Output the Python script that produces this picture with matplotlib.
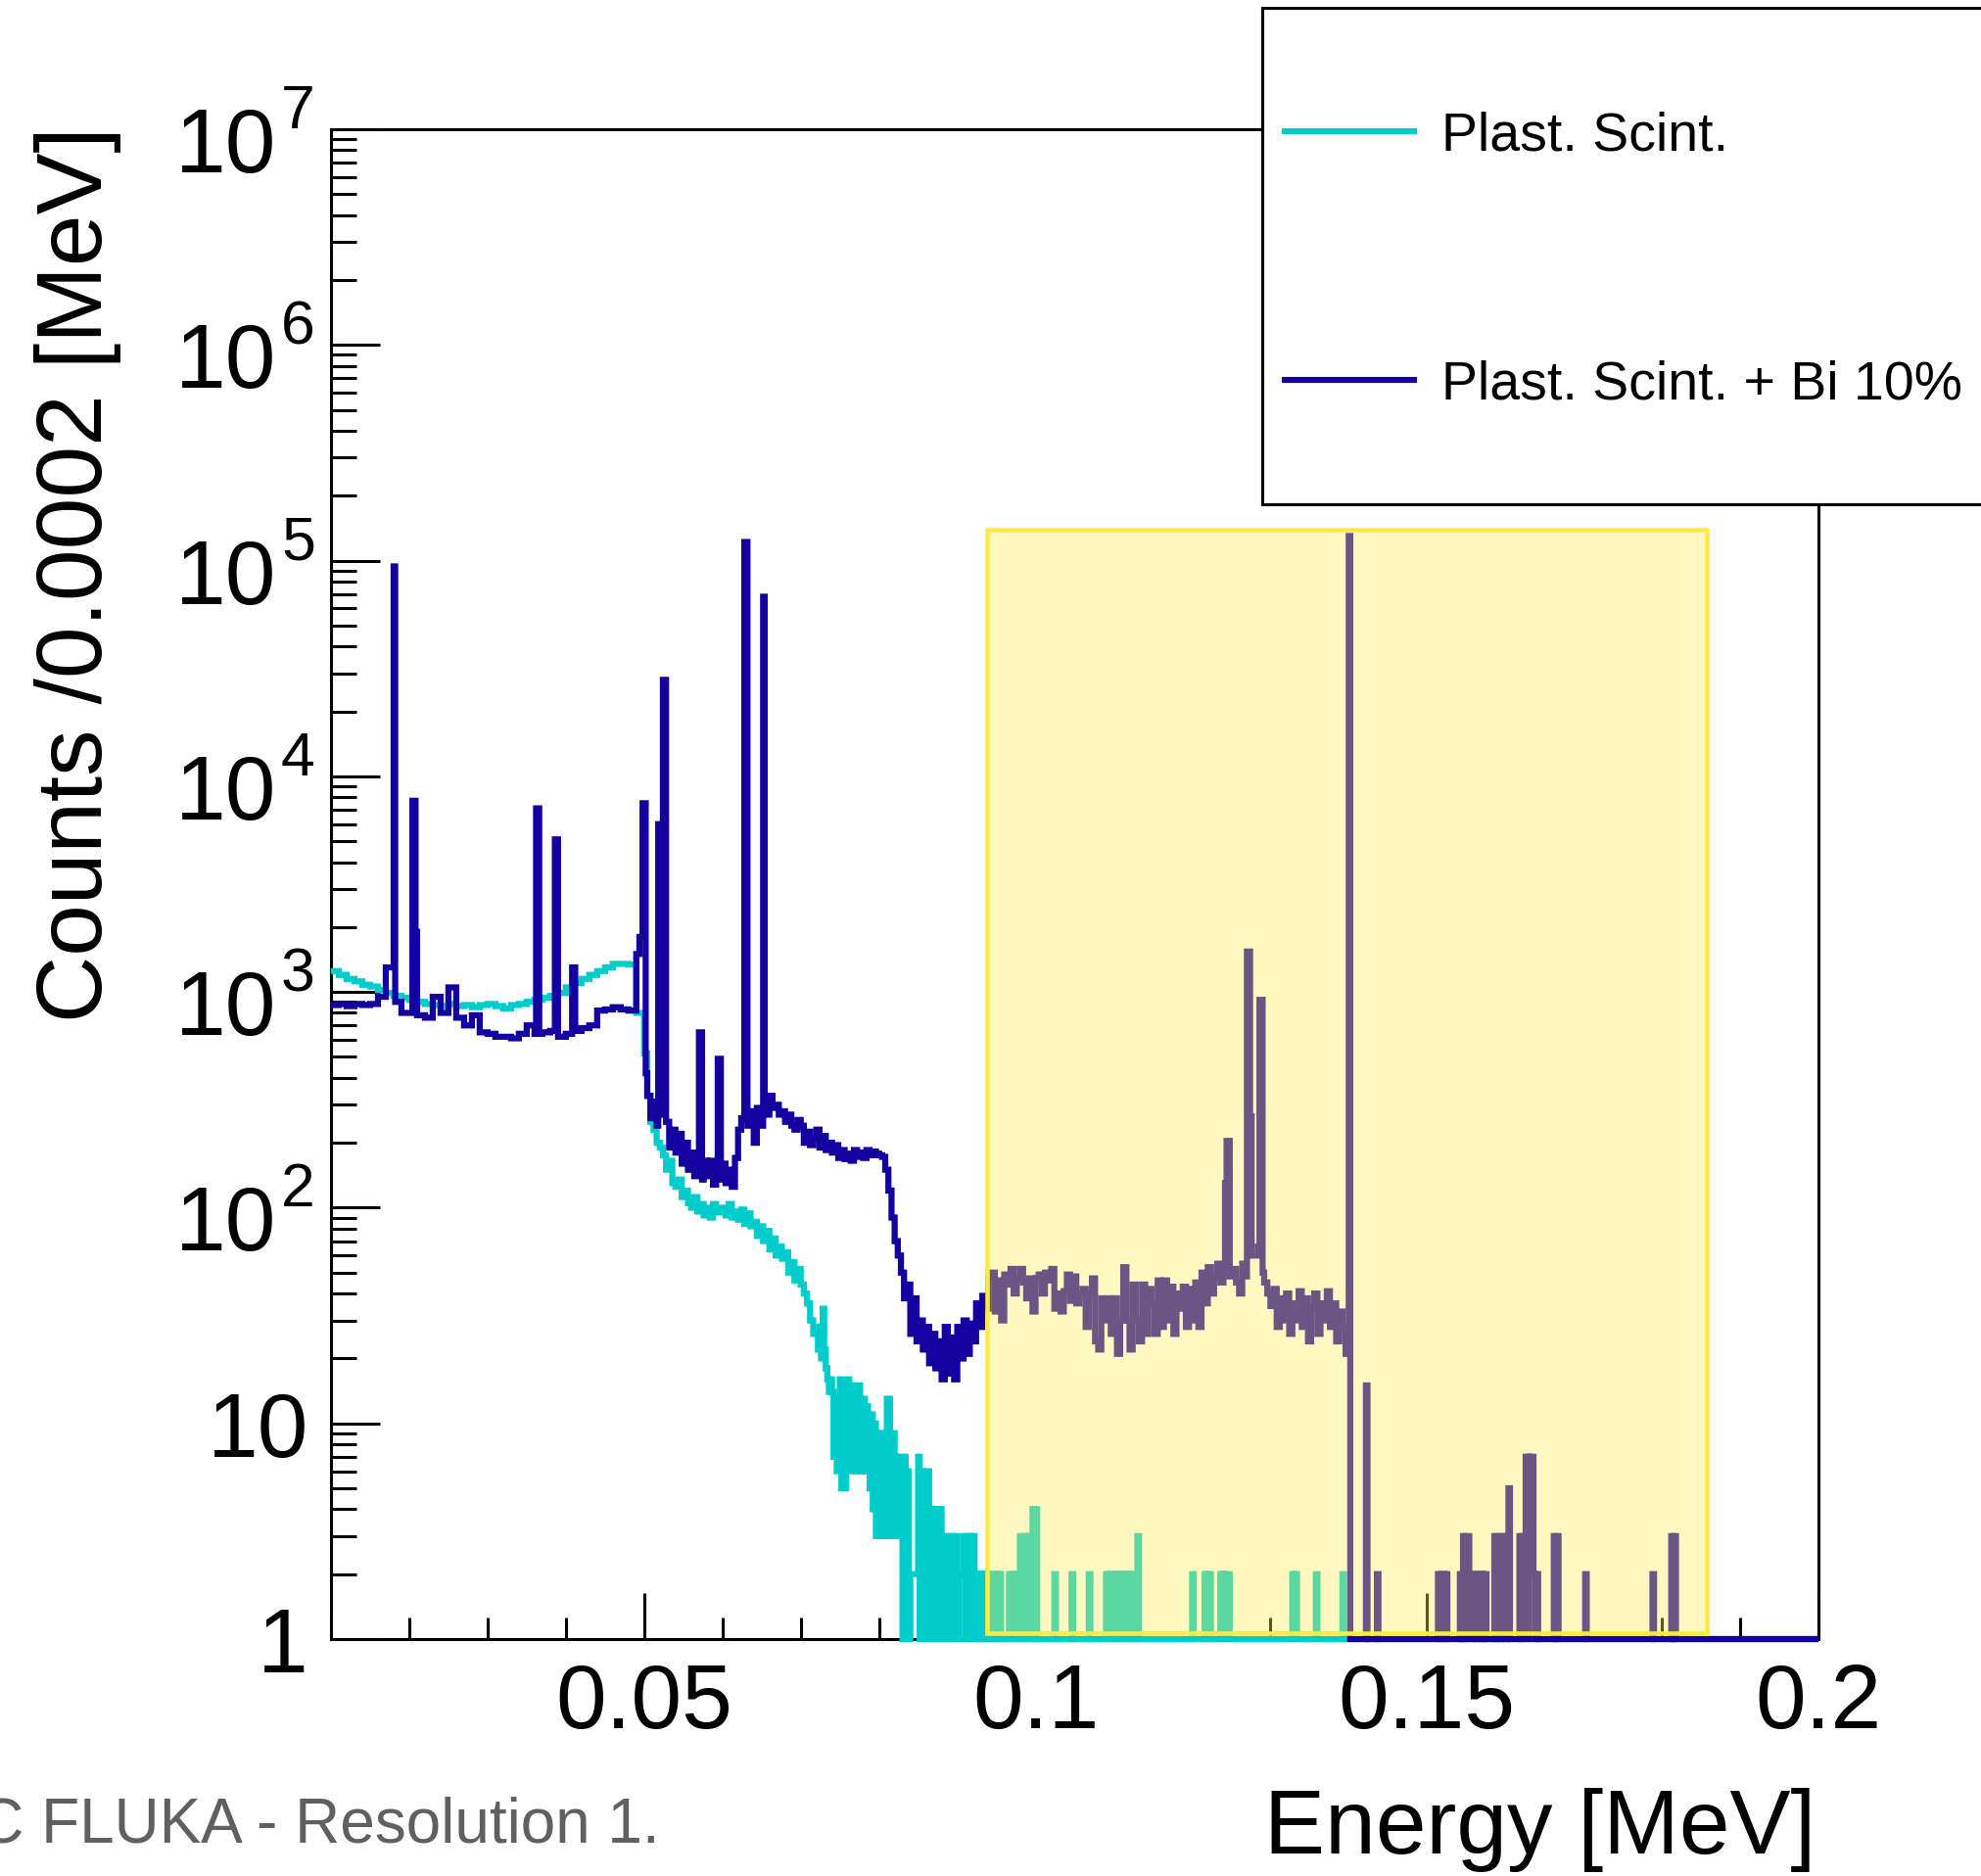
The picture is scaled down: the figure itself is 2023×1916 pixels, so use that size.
import numpy as np
import matplotlib
matplotlib.use("Agg")
import matplotlib.pyplot as plt
from matplotlib.patches import Rectangle
from matplotlib.lines import Line2D
from matplotlib.ticker import FixedLocator, LogLocator, NullFormatter, MultipleLocator

plt.rcParams["font.family"] = ["Liberation Sans", "DejaVu Sans"]

# histogram binning: 0.0002 MeV bins between 0.01 and 0.2 MeV
E_MIN, E_MAX, BIN_W = 0.01, 0.2, 0.0002
N_FINE = 950

# smooth low-energy part, one value per 0.001 MeV from 0.010 to 0.050
cyan_cont = [
    1250, 1200, 1150, 1120, 1080, 1060, 1020, 990, 960, 940,
    920, 900, 880, 870, 860, 880, 860, 870, 850, 870,
    880, 860, 840, 870, 880, 900, 920, 940, 960, 990,
    1050, 1100, 1150, 1200, 1250, 1300, 1350, 1350, 1340, 800,
]
bi_cont = [
    870, 880, 860, 880, 870, 880, 950, 1300, 900, 800,
    800, 780, 760, 950, 800, 1050, 760, 700, 780, 650,
    640, 620, 620, 610, 640, 700, 640, 650, 660, 620,
    640, 660, 680, 700, 820, 830, 850, 830, 820, 1500,
]

# Plast. Scint. above 0.05 MeV: (start energy, fine bins per value, values)
cyan_runs = [
    (0.0500, 2, [520, 330, 250, 230, 200, 190, 175, 150, 165, 130,
                 125, 135, 112, 120, 105, 100, 112, 96, 104, 92,
                 100, 90, 104, 95, 99, 100, 92, 104, 90, 96,
                 88, 98, 84, 94, 82, 86, 74, 82, 70, 78,
                 64, 72, 60, 66, 58, 62, 50, 56, 46, 52,
                 44, 40, 36, 30, 26]),
    (0.0720, 1, [26, 22, 28, 20, 34, 22, 18, 16, 14, 16,
                 14, 7, 13, 6, 13, 16, 5, 15, 5, 15,
                 16, 6, 15, 7, 14, 6, 14, 15, 6, 12,
                 13, 6, 12, 10, 5, 11, 4, 10, 3, 9,
                 3, 9, 8, 3, 9, 13, 13, 3, 4, 9,
                 7, 3, 7, 6, 3, 0, 7, 1, 6, 0,
                 2, 2, 2, 2, 2, 7, 0, 6, 1, 5,
                 0, 6, 1, 4, 0, 4, 1, 4, 0, 4,
                 1, 2, 0, 3, 1, 3, 0, 3, 1, 3,
                 0, 2, 2, 2, 3, 0, 3, 1, 3, 0,
                 3, 1, 2, 0, 2, 1, 2, 0, 2, 1]),
    (0.0940, 1, [2, 1, 2, 2, 1, 2, 1, 2]),
    (0.0966, 1, [2, 1, 2, 2, 1, 2, 2, 3, 1, 3, 2, 3, 1, 3, 3, 4, 1, 4]),
    (0.1024, 1, [2]),
    (0.1046, 1, [2]),
    (0.1068, 1, [2]),
    (0.1090, 1, [2, 1, 2, 2, 1, 2, 1, 2, 2, 1, 2, 2, 1, 2, 2, 1, 2, 2, 1, 2, 3]),
    (0.1200, 1, [2]),
    (0.1216, 1, [2, 1, 2, 2]),
    (0.1236, 1, [2, 1, 2, 1, 2, 2, 1]),
    (0.1328, 1, [2, 1, 2]),
    (0.1358, 1, [2]),
    (0.1392, 1, [2]),
]

# Plast. Scint. + Bi 10% above 0.05 MeV
bi_runs = [
    (0.0500, 2, [420, 330, 260, 310, 240, 270, 200, 250, 190, 230,
                 180, 220, 160, 200, 150, 180, 140, 170, 135, 165,
                 140, 165, 128, 150, 135, 160, 130, 150, 125, 170,
                 230, 260, 300, 240, 280, 200, 290, 240, 300, 270,
                 330, 290, 300, 270, 280, 250, 270, 240, 230, 255,
                 240, 200, 225, 195, 210, 230, 190, 215, 185, 200,
                 180, 195, 170, 185, 168, 178, 165, 185, 172, 180,
                 170, 185, 175, 182, 178, 175, 172, 150, 120, 90,
                 70, 60, 50, 38, 44, 26, 38, 24, 30, 22,
                 28, 19, 26, 18, 24, 16, 28, 17, 25, 16,
                 28, 20, 30, 21, 29, 24, 36, 28, 39]),
    (0.0936, 2, [34, 48, 50, 33, 46, 30, 49, 44, 52, 40,
                 47, 52, 45, 38, 47, 33, 47, 49, 40, 50,
                 46, 52, 34, 40, 33, 41, 49, 37, 48, 36,
                 40, 42, 28, 40, 47, 24, 22, 38, 30, 38,
                 26, 38, 21, 30, 53, 30, 22, 44, 30, 24,
                 44, 26, 42, 36, 26, 46, 28, 46, 30, 43,
                 26, 40, 34, 43, 28, 42, 30, 45, 28, 50,
                 36, 53, 40, 48, 55, 45, 50, 55, 48, 52,
                 45, 40, 55, 48, 42, 60, 60, 66, 50, 45,
                 40, 35, 42, 28, 38, 30, 40, 26, 36, 30,
                 41, 28, 38, 24, 34, 40, 26, 36, 30, 41,
                 28, 36, 24, 33, 28, 21]),
    # photo peaks and fluorescence lines
    (0.0180, 1, [94000]),
    (0.0204, 1, [7700, 7700, 1900]),
    (0.0362, 1, [7100, 7100]),
    (0.0386, 1, [5100, 5100]),
    (0.0408, 1, [1300, 1300]),
    (0.0494, 1, [1800, 1800, 7500, 7500]),
    (0.0518, 1, [6000]),
    (0.0524, 1, [28000, 28000]),
    (0.0570, 1, [650, 650]),
    (0.0594, 1, [490, 490]),
    (0.0628, 1, [122000, 122000]),
    (0.0652, 1, [68000]),
    (0.1242, 1, [130, 204, 204]),
    (0.1270, 1, [1540, 1540, 265, 60, 60, 60, 60, 66, 920, 920]),
    (0.1400, 1, [130000]),
    (0.1422, 1, [15]),
    (0.1436, 1, [2]),
    (0.1514, 1, [2, 1, 2, 2, 1, 2]),
    (0.1542, 1, [2, 1, 3, 1, 3, 3, 2, 1, 2, 2, 1, 2, 2, 1, 2, 1, 2]),
    (0.1586, 1, [3, 1, 3, 3, 1, 3, 3, 1, 3, 5]),
    (0.1618, 1, [3, 1, 3, 3, 7, 1, 7, 2, 7, 2, 1, 2]),
    (0.1662, 1, [3, 1, 3]),
    (0.1702, 1, [2]),
    (0.1788, 1, [2]),
    (0.1812, 1, [3, 1, 3]),
]

y_ticks = [1, 10, 1e2, 1e3, 1e4, 1e5, 1e6, 1e7]
x_ticks = [0.05, 0.1, 0.15, 0.2]
x_labels = ["0.05", "0.1", "0.15", "0.2"]

CYAN = "#00cccc"
BLUE = "#1400a0"

edges = np.round(E_MIN + BIN_W * np.arange(N_FINE + 1), 6)


def build_hist(cont, runs):
    counts = np.zeros(N_FINE)
    counts[: 5 * len(cont)] = np.repeat(cont, 5)
    for start, width, vals in runs:
        i0 = int(round((start - E_MIN) / BIN_W))
        counts[i0:i0 + width * len(vals)] = np.repeat(vals, width)
    return counts


h_plast = build_hist(cyan_cont, cyan_runs)
h_bi = build_hist(bi_cont, bi_runs)

W, H = 2024, 1916
fig = plt.figure(figsize=(W / 100, H / 100), dpi=100, facecolor="white")
ax = fig.add_axes([338 / W, 1 - 1674 / H, 1519 / W, 1542 / H])

# empty bins sit on the frame bottom, as on a log-scale ROOT plot
ax.stairs(np.maximum(h_plast, 1), edges, baseline=None, color=CYAN,
          lw=4.5, zorder=3, clip_on=False)
ax.stairs(np.maximum(h_bi, 1), edges, baseline=None, color=BLUE,
          lw=4.5, zorder=3.1, clip_on=False)

ax.set_xlim(E_MIN, E_MAX)
ax.set_yscale("log")
ax.set_ylim(1, 1e7)

ax.yaxis.set_major_locator(FixedLocator(y_ticks))
ax.yaxis.set_minor_locator(LogLocator(base=10, subs=np.arange(2, 10)))
ax.yaxis.set_minor_formatter(NullFormatter())
ax.xaxis.set_major_locator(FixedLocator(x_ticks))
ax.xaxis.set_minor_locator(MultipleLocator(0.01))

ax.tick_params(which="both", direction="in", width=2.2, top=False, right=False,
               labelleft=False, labelbottom=False)
ax.tick_params(axis="x", which="major", length=34)
ax.tick_params(axis="x", which="minor", length=16)
ax.tick_params(axis="y", which="major", length=36)
ax.tick_params(axis="y", which="minor", length=19)
for sp in ax.spines.values():
    sp.set_linewidth(2.2)

# tick labels, ROOT style: 1, 10, then powers of ten with a raised exponent
ytr = ax.get_yaxis_transform()
for v in y_ticks:
    n = int(round(np.log10(v)))
    if n < 2:
        ax.annotate(str(int(v)), (0, v), xycoords=ytr, xytext=(-23, -34),
                    textcoords="offset pixels", ha="right", va="baseline",
                    fontsize=67, annotation_clip=False)
    else:
        ax.annotate("10", (0, v), xycoords=ytr, xytext=(-56, -44),
                    textcoords="offset pixels", ha="right", va="baseline",
                    fontsize=67, annotation_clip=False)
        ax.annotate(str(n), (0, v), xycoords=ytr, xytext=(-51, 1),
                    textcoords="offset pixels", ha="left", va="baseline",
                    fontsize=45, annotation_clip=False)
xtr = ax.get_xaxis_transform()
for v, lab in zip(x_ticks, x_labels):
    ax.annotate(lab, (v, 0), xycoords=xtr, xytext=(0, -91),
                textcoords="offset pixels", ha="center", va="baseline",
                fontsize=67, annotation_clip=False)

# highlighted energy window
ax.add_patch(Rectangle((0.0938, 1.065), 0.1858 - 0.0938, 1.39e5 - 1.065,
                       facecolor=(1.0, 0.925, 0.333, 0.37), edgecolor="#ffe94a",
                       lw=3.3, zorder=5, clip_on=False))

# axis titles
fig.text(80 / W, 1 - 129 / H, "Counts /0.0002 [MeV]", rotation=90,
         ha="center", va="top", fontsize=68)
fig.text(1854 / W, 1 - 1893 / H, "Energy [MeV]", ha="right", va="baseline",
         fontsize=67)
fig.text(674 / W, 1 - 1882 / H, "MC FLUKA - Resolution 1.", ha="right",
         va="baseline", fontsize=46, color="#606060")

# legend box
fig.add_artist(Rectangle((1289.5 / W, 1 - 514.7 / H), (2110 - 1289.5) / W,
                         (514.7 - 8.5) / H, transform=fig.transFigure,
                         facecolor="white", edgecolor="black", lw=2.2,
                         zorder=10, clip_on=False))
for y_line, y_text, col, label in [(134, 154, CYAN, "Plast. Scint."),
                                   (388, 408, BLUE, "Plast. Scint. + Bi 10%")]:
    fig.add_artist(Line2D([1312 / W, 1444 / W], [1 - y_line / H] * 2,
                          transform=fig.transFigure, color=col, lw=4.4,
                          zorder=11))
    fig.text(1472 / W, 1 - y_text / H, label, ha="left", va="baseline",
             fontsize=40, zorder=11)

fig.savefig("out.png", dpi=100, facecolor="white")
